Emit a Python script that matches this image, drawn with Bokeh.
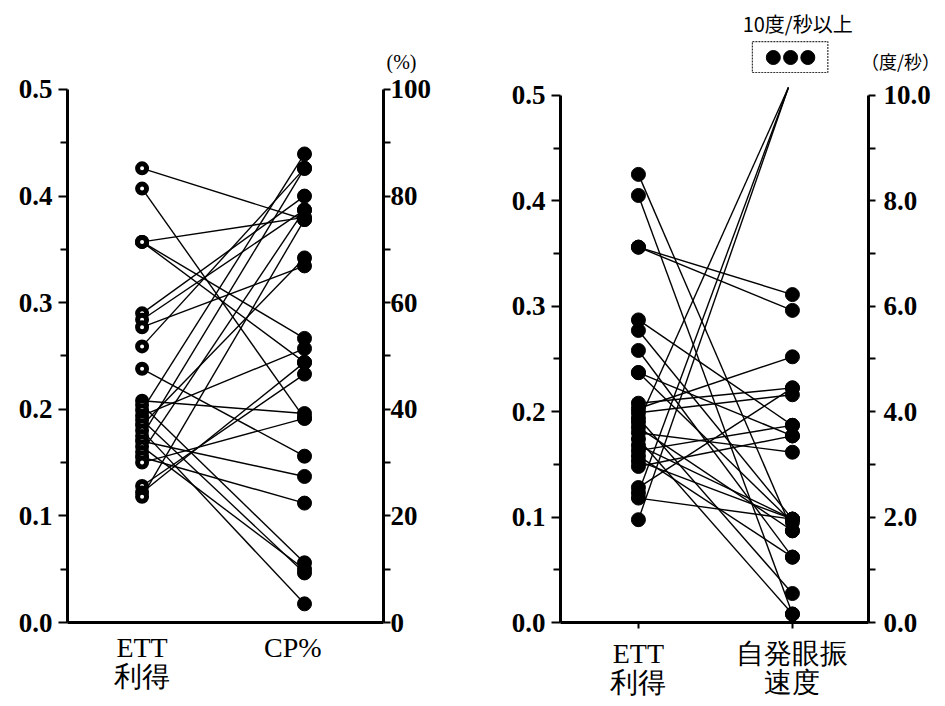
from bokeh.plotting import figure
from bokeh.models import Range1d, LinearAxis, FixedTicker, PrintfTickFormatter
from bokeh.layouts import row, column
from bokeh.core.properties import value
from bokeh.embed import file_html
from bokeh.resources import INLINE

# ---------------- data ----------------
# Left panel: ETT gain  ->  CP%
left_ett = [0.426, 0.407, 0.357, 0.357, 0.357, 0.290, 0.284, 0.277, 0.259, 0.238,
            0.208, 0.204, 0.199, 0.194, 0.190, 0.185, 0.180, 0.175, 0.170, 0.165,
            0.160, 0.155, 0.150, 0.128, 0.122, 0.118]
left_cp = [75.6, 38.3, 76.0, 53.3, 48.8, 80.0, 77.4, 66.9, 85.2, 31.2,
           39.2, 11.2, 87.9, 51.4, 9.3, 68.4, 3.5, 85.2, 27.4, 10.0,
           77.4, 22.4, 38.3, 46.6, 48.8, 75.6]

# Right panel: ETT gain -> spontaneous nystagmus velocity (deg/s)
right_ett = [0.425, 0.405, 0.356, 0.356, 0.287, 0.277, 0.258, 0.237, 0.237, 0.208,
             0.203, 0.199, 0.194, 0.185, 0.180, 0.174, 0.168, 0.163, 0.158, 0.153,
             0.148, 0.128, 0.118]
right_vel = [1.74, 0.16, 6.22, 5.92, 3.74, 1.96, 1.24, 3.54, 1.90, 4.45,
             5.04, 4.32, 0.55, 1.74, 3.23, 0.16, 1.96, 3.74, 1.24, 1.96,
             3.54, 4.45, 1.96]
# cases with velocity of 10 deg/s or more
over10_ett = [0.190, 0.123, 0.0975]
over10_level = 10.15

ett_ticks = [0.0, 0.1, 0.2, 0.3, 0.4, 0.5]
ett_minor = [0.05, 0.15, 0.25, 0.35, 0.45]
cp_ticks = [0, 20, 40, 60, 80, 100]
cp_minor = [10, 30, 50, 70, 90]
vel_ticks = [0, 2, 4, 6, 8, 10]
vel_minor = [1, 3, 5, 7, 9]
left_cats = ["ETT\n利得", "CP%"]
right_cats = ["ETT\n利得", "自発眼振\n速度"]
over10_text = "10度/秒以上"
cp_unit = "(%)"
vel_unit = "（度/秒）"

# ---------------- styling / geometry ----------------
SERIF = "Liberation Serif"
CJK = "Noto Sans CJK JP"
PX = 1072.0          # pixels per ETT unit
CP_SCALE = 200.0     # 100 % at ETT 0.5
VEL_SCALE = 20.0     # 10 deg/s at ETT 0.5
TOTAL_H = 700
TOP_H = 73           # strip above both panels
MAIN_H = TOTAL_H - TOP_H


def style_axis(ax, ticks, minor, fmt, tick_out, minor_out, standoff, bounds):
    ax.ticker = FixedTicker(ticks=ticks, minor_ticks=minor)
    ax.formatter = PrintfTickFormatter(format=fmt)
    ax.bounds = bounds
    ax.axis_line_width = 3
    ax.axis_line_color = "black"
    ax.major_tick_line_width = 2
    ax.minor_tick_line_width = 2
    ax.major_tick_in = 0
    ax.minor_tick_in = 0
    ax.major_tick_out = tick_out
    ax.minor_tick_out = minor_out
    ax.major_label_text_font = SERIF
    ax.major_label_text_font_style = "bold"
    ax.major_label_text_font_size = "27px"
    ax.major_label_text_color = "black"
    ax.major_label_standoff = standoff


def make_panel(width, b_left, b_right, b_top, b_bottom, x_left, x_label_right,
               cats, right_name, right_scale, right_ticks, right_minor, right_fmt,
               right_standoff, bottom_tick):
    frame_h = MAIN_H - b_top - b_bottom
    y_end = frame_h / PX
    p = figure(width=width, height=MAIN_H, output_backend="svg", toolbar_location=None,
               x_range=Range1d(0, 1), y_range=Range1d(0, y_end),
               min_border_left=b_left, min_border_right=b_right,
               min_border_top=b_top, min_border_bottom=b_bottom)
    p.outline_line_color = None
    p.grid.visible = False

    style_axis(p.yaxis[0], ett_ticks, ett_minor, "%.1f", 9, 7, 6, (0, 0.5))

    p.extra_y_ranges = {right_name: Range1d(0, y_end * right_scale)}
    rax = LinearAxis(y_range_name=right_name)
    style_axis(rax, right_ticks, right_minor, right_fmt, 7, 7, right_standoff,
               (0, 0.5 * right_scale))
    p.add_layout(rax, "right")

    xa = p.xaxis[0]
    xa.ticker = FixedTicker(ticks=[x_left, x_label_right], minor_ticks=[])
    xa.major_label_overrides = {x_left: cats[0], x_label_right: cats[1]}
    xa.axis_line_width = 3
    xa.axis_line_color = "black"
    xa.major_tick_line_width = 2
    xa.major_tick_in = 0
    xa.major_tick_out = bottom_tick
    xa.minor_tick_out = 0
    xa.major_label_text_font = SERIF
    xa.major_label_text_font_size = "28px"
    xa.major_label_text_color = "black"
    xa.major_label_standoff = 9
    xa.major_label_text_line_height = 0.95
    return p


def make_strip(width, frame_left, frame_w, zero_y):
    """Strip above a panel that shares the panel's data coordinates."""
    x0 = -frame_left / frame_w
    x1 = (width - frame_left) / frame_w
    y_top = zero_y / PX
    y_bot = (zero_y - TOP_H) / PX
    t = figure(width=width, height=TOP_H, output_backend="svg", toolbar_location=None,
               x_range=Range1d(x0, x1), y_range=Range1d(y_bot, y_top),
               min_border_left=0, min_border_right=0, min_border_top=0,
               min_border_bottom=0, x_axis_type=None, y_axis_type=None)
    t.outline_line_color = None
    t.grid.visible = False
    return t


# ---------------- left panel ----------------
XL1, XR1 = 0.236, 0.75
p1 = make_panel(480, 67, 97, 11, 75, XL1, 0.713, left_cats, "cp",
                CP_SCALE, cp_ticks, cp_minor, "%d", 0, 0)
p1.segment(x0=[XL1] * len(left_ett), y0=left_ett,
           x1=[XR1] * len(left_cp), y1=[c / CP_SCALE for c in left_cp],
           line_color="black", line_width=1.4)
p1.scatter(x=[XR1] * len(left_cp), y=left_cp, y_range_name="cp", size=14,
           fill_color="black", line_color="black")
p1.scatter(x=[XL1] * len(left_ett), y=left_ett, size=9, fill_color="white",
           line_color="black", line_width=5)

t1 = make_strip(480, 67, 316, 625)
t1.text(x=[1.057], y=[0.5252], text=[cp_unit], text_align="center",
        text_baseline="middle", text_font=value(SERIF), text_font_size="20px",
        text_color="black")

# ---------------- right panel ----------------
XL2, XR2 = 0.253, 0.753
X_OVER = 0.740
p2 = make_panel(463, 80, 75, 7, 73, XL2, XR2, right_cats, "vel",
                VEL_SCALE, vel_ticks, vel_minor, "%.1f", 8, 6)
p2.segment(x0=[XL2] * len(right_ett), y0=right_ett,
           x1=[XR2] * len(right_vel), y1=[v / VEL_SCALE for v in right_vel],
           line_color="black", line_width=1.4)
p2.segment(x0=[XL2] * len(over10_ett), y0=over10_ett,
           x1=[X_OVER] * len(over10_ett), y1=[over10_level / VEL_SCALE] * len(over10_ett),
           line_color="black", line_width=1.4)
p2.scatter(x=[XR2] * len(right_vel), y=right_vel, y_range_name="vel", size=14,
           fill_color="black", line_color="black")
p2.scatter(x=[XL2] * len(right_ett + over10_ett), y=right_ett + over10_ett, size=14,
           fill_color="black", line_color="black")

t2 = make_strip(463, 80, 308, 627)
# box with the three >=10 deg/s cases
n_over = len(over10_ett)
dot_dx = 0.056
dot_x = [XR2 - 0.006 + (i - (n_over - 1) / 2) * dot_dx for i in range(n_over)]
dot_y = 0.5317
t2.quad(left=dot_x[0] - 0.068, right=dot_x[-1] + 0.065, bottom=dot_y - 0.0140,
        top=dot_y + 0.0149, fill_color=None, line_color="#333333", line_width=1.2,
        line_dash="2 1")
t2.scatter(x=dot_x, y=[dot_y] * n_over, size=14, fill_color="black", line_color="black")
t2.text(x=[0.77], y=[0.5634], text=[over10_text], text_align="center",
        text_baseline="middle", text_font=value(CJK), text_font_size="20px",
        text_color="black")
t2.text(x=[1.104], y=[0.5289], text=[vel_unit], text_align="center",
        text_baseline="middle", text_font=value(CJK), text_font_size="18px",
        text_color="black")

layout = column(row(t1, t2), row(p1, p2))
open("out.html", "w").write(file_html(layout, INLINE))
